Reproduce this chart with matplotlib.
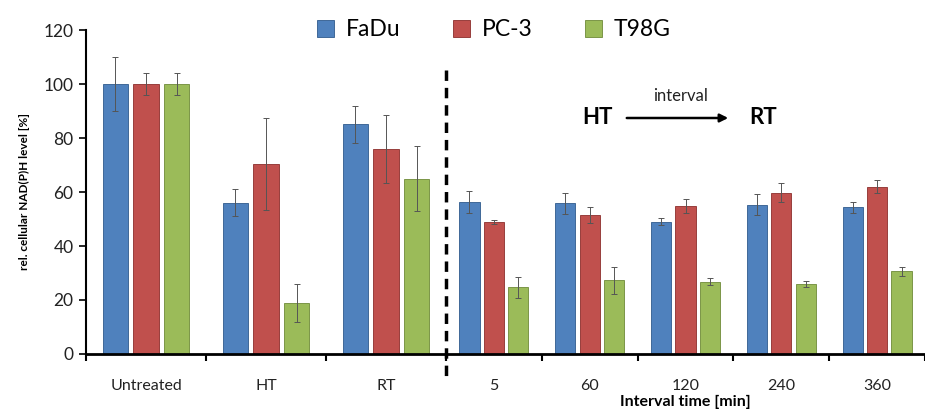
import matplotlib
matplotlib.use("Agg")
import matplotlib.pyplot as plt
import numpy as np

plt.rcParams['font.family'] = ['Lato', 'DejaVu Sans']

series = ["FaDu", "PC-3", "T98G"]
colors = ["#4F81BD", "#C0504D", "#9BBB59"]
edges = ["#2F5A8C", "#8C2E2C", "#6E8A38"]

left_cats = ["Untreated", "HT", "RT"]
left_vals = {
    "FaDu": [100, 56, 85],
    "PC-3": [100, 70.5, 76],
    "T98G": [100, 19, 65],
}
left_errs = {
    "FaDu": [10, 5, 7],
    "PC-3": [4, 17, 12.5],
    "T98G": [4, 7, 12],
}

right_cats = ["5", "60", "120", "240", "360"]
right_vals = {
    "FaDu": [56.4, 55.8, 49.0, 55.3, 54.3],
    "PC-3": [48.8, 51.5, 54.8, 59.7, 62.0],
    "T98G": [24.7, 27.4, 26.7, 26.0, 30.7],
}
right_errs = {
    "FaDu": [4, 4, 1.2, 4, 2],
    "PC-3": [0.7, 3, 2.5, 3.5, 2.5],
    "T98G": [4, 5, 1.3, 1, 1.7],
}

W, H = 925, 411
fig = plt.figure(figsize=(W / 100, H / 100), dpi=100)
x0, x1, x2 = 86 / W, 446 / W, 925 / W
yb, yt = 1 - 354 / H, 1 - 30 / H
axL = fig.add_axes([x0, yb, x1 - x0, yt - yb])
axR = fig.add_axes([x1, yb, x2 - x1, yt - yb])

bw = 0.21
offs = [-0.255, 0, 0.255]

def draw(ax, cats, vals, errs):
    n = len(cats)
    xs = np.arange(n) + 0.5
    for i, s in enumerate(series):
        ax.bar(xs + offs[i], vals[s], bw, color=colors[i], edgecolor=edges[i],
               linewidth=0.6, zorder=2, label=s)
        ax.errorbar(xs + offs[i], vals[s], yerr=errs[s], fmt='none',
                    ecolor='#555555', elinewidth=0.7, capsize=2, capthick=0.7,
                    zorder=3)
    ax.set_xlim(0, n)
    ax.set_ylim(0, 120)
    ax.set_xticks(np.arange(n + 1))
    ax.set_xticklabels([])
    ax.set_xticks(xs, minor=True)
    ax.set_xticklabels(cats, minor=True, fontsize=11.5, color='#222222')
    ax.tick_params(axis='x', which='major', direction='out', length=5, width=1.5)
    ax.tick_params(axis='x', which='minor', length=0, pad=18)
    for sp in ['top', 'right']:
        ax.spines[sp].set_visible(False)
    ax.spines['bottom'].set_linewidth(2)

draw(axL, left_cats, left_vals, left_errs)
draw(axR, right_cats, right_vals, right_errs)

axL.set_yticks(np.arange(0, 121, 20))
axL.tick_params(axis='y', direction='out', length=5, width=1.2, labelsize=12.5,
                pad=4, labelcolor='#222222')
axL.spines['left'].set_linewidth(1.5)
axL.set_ylabel("rel. cellular NAD(P)H level [%]", fontsize=8.5, fontweight='bold',
               labelpad=10)

axR.spines['left'].set_visible(False)
axR.set_yticks([])
axR.set_xlabel("Interval time [min]", fontsize=11.5, fontweight='bold', labelpad=1)

# dashed separator
fig.add_artist(plt.Line2D([x1, x1], [1 - 70 / H, 1 - 376 / H], transform=fig.transFigure,
                          color='black', linestyle=(0, (3, 2)), linewidth=2.5))

# annotation HT -> RT
axR.text(597 / W, 1 - 118 / H, "HT", transform=fig.transFigure, fontsize=16,
         fontweight='bold', ha='center', va='center')
axR.text(763 / W, 1 - 118 / H, "RT", transform=fig.transFigure, fontsize=16,
         fontweight='bold', ha='center', va='center')
axR.text(680 / W, 1 - 96 / H, "interval", transform=fig.transFigure, fontsize=12,
         ha='center', va='center', color='#222222')
fig.add_artist(matplotlib.patches.FancyArrowPatch(
    (624 / W, 1 - 118 / H), (731 / W, 1 - 118 / H), transform=fig.transFigure,
    arrowstyle='-|>', mutation_scale=12, color='black', linewidth=1.8))

handles, labels = axL.get_legend_handles_labels()
fig.legend(handles[:3], labels[:3], loc='center', bbox_to_anchor=(494 / W, 1 - 30 / H),
           ncol=3, frameon=False, fontsize=16.5, handlelength=0.75, handleheight=0.75,
           columnspacing=2.3, handletextpad=0.5)

fig.savefig("out.png", dpi=100)
